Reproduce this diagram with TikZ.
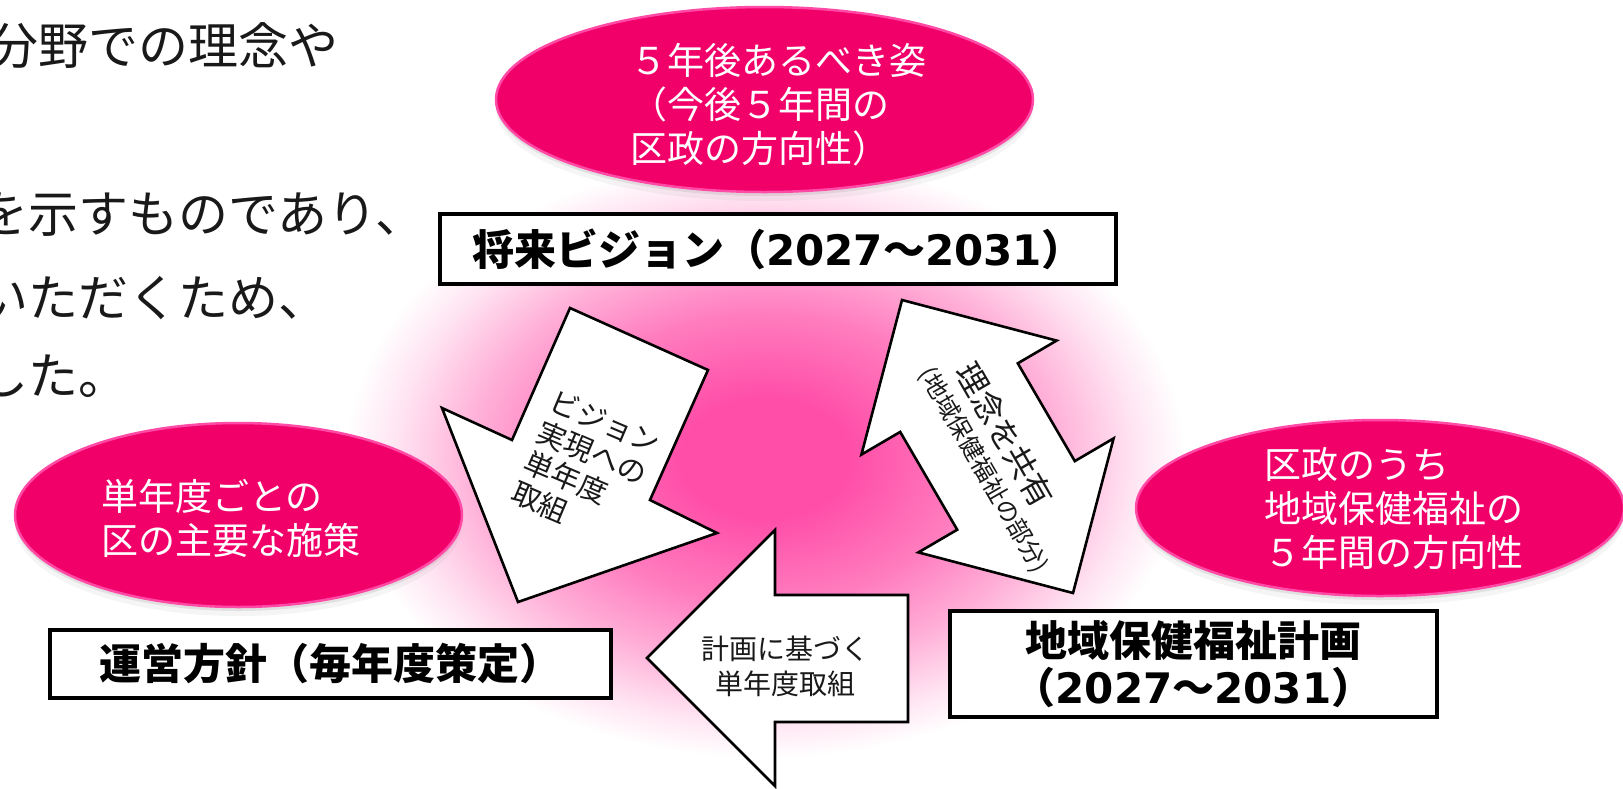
\documentclass[tikz,border=0pt]{standalone}
\usepackage{fontspec}
\setmainfont{Noto Sans CJK JP}
\newfontfamily\jp{Noto Sans CJK JP}
\newfontfamily\dv{DejaVu Sans}
\usetikzlibrary{shapes.geometric,shadows}
\definecolor{mag}{RGB}{242,0,106}
\definecolor{magrim}{RGB}{255,75,165}
\definecolor{glowc}{RGB}{255,78,168}
\definecolor{ink}{RGB}{25,25,25}
\pgfdeclareradialshading{glow}{\pgfpoint{0bp}{0bp}}{color(0bp)=(glowc); color(5bp)=(glowc); color(12bp)=(glowc!74!white); color(17.5bp)=(glowc!44!white); color(22bp)=(glowc!15!white); color(25bp)=(white); color(50bp)=(white)}
\newcommand{\dg}[1]{{\dv\bfseries #1}}
\tikzset{
  pinkell/.style={ellipse, inner sep=0pt, fill=mag, draw=magrim, line width=2.5pt,
    drop shadow={shadow xshift=0pt, shadow yshift=-4pt, opacity=.16},
    drop shadow={shadow xshift=0pt, shadow yshift=-9pt, opacity=.08}},
  elltext/.style={text=white, align=left, inner sep=0pt, font=\fontsize{37}{44}\selectfont},
  titlebox/.style={draw=black, fill=white, line width=4pt, inner sep=0pt,
    font=\fontsize{42}{47}\selectfont\bfseries, align=center, text=black},
  blockarrow/.style={draw=black, fill=white, line width=2.6pt, line join=miter},
  arrowtext/.style={inner sep=0pt, text=ink},
  bodytext/.style={anchor=base west, inner sep=0pt, text=ink, font=\fontsize{50}{50}\selectfont}
}
\begin{document}
\begin{tikzpicture}[x=1pt, y=-1pt]
\useasboundingbox (0,0) rectangle (1623,788);
\fill[white] (0,0) rectangle (1623,788);
% background glow
\shade[shading=glow] (765,458) ellipse [x radius=420pt, y radius=300pt];
% left text
\node[bodytext] (t1) at (-12,64) {分野での理念や};
\node[bodytext] (t2) at (-22,232) {を示すものであり、};
\node[bodytext] (t3) at (-22,316) {いただくため、};
\node[bodytext] (t4) at (-22,394) {した。};
% ellipses
\node[pinkell, minimum width=537pt, minimum height=185pt] (topell) at (764.5,99.5) {};
\node[elltext, anchor=west] (toptext) at (630,105) {５年後あるべき姿\\（今後５年間の\\区政の方向性）};
\node[pinkell, minimum width=447pt, minimum height=184pt] (leftell) at (238.5,515) {};
\node[elltext, anchor=west] (lefttext) at (101,518) {単年度ごとの\\区の主要な施策};
\node[pinkell, minimum width=488pt, minimum height=176pt] (rightell) at (1380,508) {};
\node[elltext, anchor=west] (righttext) at (1264,509) {区政のうち\\地域保健福祉の\\５年間の方向性};
% boxes
\node[titlebox, minimum width=676pt, minimum height=70pt] (vision) at (778,249) {将来ビジョン（\dg{2027}～\dg{2031}）};
\node[titlebox, minimum width=561pt, minimum height=68pt] (unei) at (330.5,664) {運営方針（毎年度策定）};
\node[titlebox, minimum width=487pt, minimum height=106pt] (plan) at (1193.5,664) {地域保健福祉計画\\（\dg{2027}～\dg{2031}）};
% arrow 1: vision -> annual
\draw[blockarrow] (570,308) -- (708,370) -- (650,500) -- (717,533) -- (518,602) -- (442,408) -- (512,440) -- cycle;
\node[arrowtext, rotate=-23, align=left, font=\fontsize{29}{33}\selectfont] (a1text) at (586,468) {ビジョン\\実現への\\単年度\\取組};
% arrow 2: double
\draw[blockarrow] (902,300) -- (1056.6,340.6) -- (1017.8,363.3) -- (1074.8,461.1) -- (1113.6,438.4) -- (1073,593) -- (918.4,552.4) -- (957.2,529.7) -- (900.2,431.9) -- (861.4,454.6) -- cycle;
\node[arrowtext, rotate=-60, font=\fontsize{32}{36}\selectfont] (a2text) at (1005,435) {理念を共有};
\node[arrowtext, rotate=-60, font=\fontsize{24}{28}\selectfont] (a2sub) at (983,470) {(地域保健福祉の部分)};
% arrow 3: plan -> annual
\draw[blockarrow] (647,658) -- (775,530) -- (775,595) -- (908,595) -- (908,722) -- (775,722) -- (775,786) -- cycle;
\node[arrowtext, align=center, font=\fontsize{28}{35}\selectfont] (a3text) at (785,666) {計画に基づく\\単年度取組};
\end{tikzpicture}
\end{document}
